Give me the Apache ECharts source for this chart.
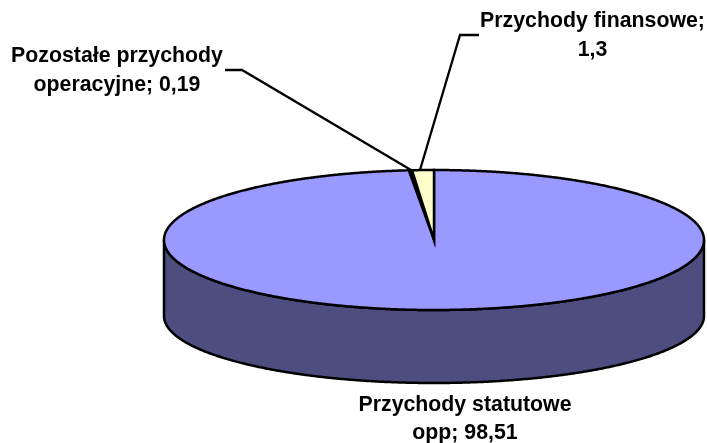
<!DOCTYPE html>
<html>
<head>
<meta charset="utf-8">
<title>Przychody</title>
<script src="https://cdn.jsdelivr.net/npm/echarts@6/dist/echarts.min.js"></script>
<style>
  html, body { margin: 0; padding: 0; background: #fff; }
  #main { width: 707px; height: 443px; }
</style>
</head>
<body>
<div id="main"></div>
<script>
// dane, kolejnosc zgodnie z ruchem wskazowek od godziny 12
const categories = ['Przychody statutowe opp', 'Pozostałe przychody operacyjne', 'Przychody finansowe']
const values = [98.51, 0.19, 1.3]
const labelTexts = ['Przychody statutowe\nopp; 98,51', 'Pozostałe przychody\noperacyjne; 0,19', 'Przychody finansowe;\n1,3']

const topColors = ['#9999ff', '#000000', '#ffffcc']
const sideColors = ['#4d4d80', '#000000', '#808066']

// geometria "plaskiego" kola 3D
const cx = 434
const cy = 240
const rx = 270
const ry = 70
const depth = 76
const bottomRy = 67 // dolna krawedz jest lekko splaszczona (perspektywa)
const stroke = 2.5

const total = values.reduce((a, b) => a + b, 0)
let acc = 0
const seriesData = values.map((v) => {
  const row = [acc, v]
  acc += v
  return row
})

// kat liczony od gory, zgodnie z ruchem wskazowek
function arc(from, to, dy, radiusY) {
  const pts = []
  const steps = Math.max(2, Math.ceil((to - from) / 0.005))
  for (let i = 0; i <= steps; i++) {
    const a = from + (to - from) * i / steps
    pts.push([cx + rx * Math.sin(a), cy - radiusY * Math.cos(a) + dy])
  }
  return pts
}

function renderSlice(params, api) {
  const start = api.value(0) / total * Math.PI * 2
  const end = start + api.value(1) / total * Math.PI * 2
  const children = []

  // sciana boczna tylko dla przedniej polowy
  const from = Math.max(start, Math.PI / 2)
  const to = Math.min(end, Math.PI * 1.5)
  if (to > from) {
    children.push({
      type: 'polygon',
      shape: { points: arc(from, to, 0, ry).concat(arc(from, to, depth, bottomRy).reverse()) },
      style: { fill: sideColors[params.dataIndex], stroke: '#000', lineWidth: stroke, lineJoin: 'round' }
    })
  }
  children.push({
    type: 'polygon',
    shape: { points: [[cx, cy]].concat(arc(start, end, 0, ry)) },
    style: {
      fill: topColors[params.dataIndex],
      stroke: '#000',
      // najwezszy wycinek to praktycznie sama linia
      lineWidth: values[params.dataIndex] < 1 ? 0 : stroke,
      lineJoin: 'miter'
    }
  })
  return { type: 'group', children: children }
}

const labelPos = [[465, 419], [117, 70.5], [592.5, 35.5]]
const leaders = [
  [[225, 70], [242, 70], [411, 170]],
  [[479, 35], [460, 35], [420, 170]]
]

const chart = echarts.init(document.getElementById('main'), null, { renderer: 'canvas' })
chart.setOption({
  animation: false,
  backgroundColor: '#fff',
  graphic: labelTexts.map((t, i) => ({
    type: 'text',
    x: labelPos[i][0],
    y: labelPos[i][1],
    z: 10,
    style: {
      text: t,
      fill: '#000',
      font: 'bold 21.3px "Liberation Sans", Arial, sans-serif',
      lineHeight: 28.5,
      align: 'center',
      verticalAlign: 'middle'
    }
  })).concat(leaders.map((pts) => ({
    type: 'polyline',
    z: 10,
    shape: { points: pts },
    style: { fill: null, stroke: '#000', lineWidth: 2.3 }
  }))),
  series: [{
    type: 'custom',
    name: 'Przychody',
    coordinateSystem: 'none',
    silent: true,
    renderItem: renderSlice,
    data: seriesData.map((r, i) => ({ name: categories[i], value: r }))
  }]
})
</script>
</body>
</html>
